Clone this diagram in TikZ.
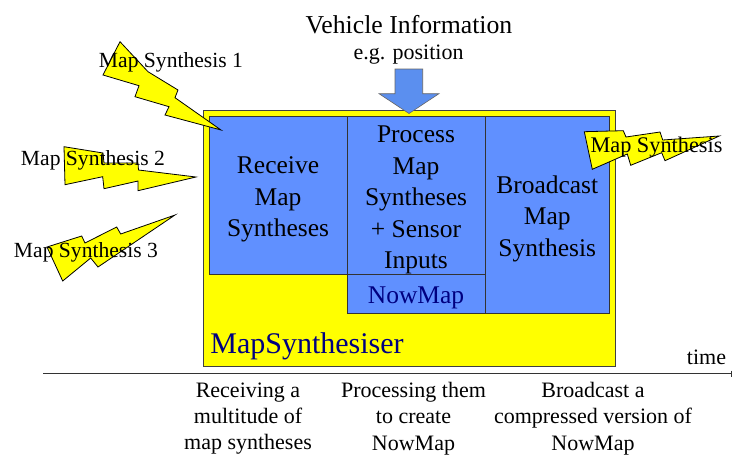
\documentclass[tikz,border=0pt]{standalone}
\usepackage{fontspec}
\setmainfont{Liberation Serif}
\usepackage{xcolor}
\definecolor{boxblue}{HTML}{6090FF}
\definecolor{arrowblue}{HTML}{5B8FEF}
\definecolor{navytext}{HTML}{000080}
\definecolor{boltyellow}{RGB}{255,255,0}
\tikzset{
    blockbox/.style={draw=black!80, fill=boxblue, line width=0.9pt, inner sep=0pt},
    blocktext/.style={align=center, inner sep=0pt, font=\fontsize{25.5}{31.5}\selectfont},
    boltshape/.style={draw=black, fill=boltyellow, line width=0.8pt, line join=miter},
    boltlabel/.style={font=\fontsize{21.6}{24}\selectfont, inner sep=0pt},
    notelabel/.style={font=\fontsize{22}{26.25}\selectfont, align=center, inner sep=0pt}
}
\begin{document}
\begin{tikzpicture}[x=1pt,y=-1pt]
    \useasboundingbox (0,0) rectangle (732,455);
    \draw[draw=black!75, fill=boltyellow, line width=0.8pt] (203,110) rectangle (615.5,366);
    \node[blockbox, minimum width=138pt, minimum height=158pt] (receive) at (278,195) {};
    \node[blockbox, minimum width=138pt, minimum height=158pt] (process) at (416,195) {};
    \node[blockbox, minimum width=138pt, minimum height=39pt] (nowmap) at (416,293.5) {};
    \node[blockbox, minimum width=124.5pt, minimum height=197pt] (broadcast) at (547.25,214.5) {};
    \node[blocktext] (receivetext) at ([yshift=-4.5pt]receive.center) {Receive\\Map\\Syntheses};
    \node[blocktext] (processtext) at ([yshift=-5pt]process.center) {Process\\Map\\Syntheses\\+ Sensor\\Inputs};
    \node[blocktext, text=navytext] (nowmaptext) at ([yshift=-4.5pt]nowmap.center) {NowMap};
    \node[blocktext] (broadcasttext) at ([yshift=-4pt]broadcast.center) {Broadcast\\Map\\Synthesis};
    \node[font=\fontsize{30}{36}\selectfont, text=navytext, inner sep=0pt] (synthesiser) at (307,346) {MapSynthesiser};
    \draw[draw=black!60, fill=arrowblue, line width=0.6pt] (395,69) -- (422.7,69) -- (422.7,93.7) -- (439,93.7) -- (409,113.5) -- (379,93.7) -- (395,93.7) -- cycle;
    \node[font=\fontsize{25.75}{30}\selectfont, inner sep=0pt] (vehicle) at (409,25) {Vehicle Information};
    \node[font=\fontsize{22}{26}\selectfont, inner sep=0pt] (position) at (408.5,55) {e.g. position};
    \draw[boltshape] (120,41.7) -- (148,71.7) -- (178,90) -- (175,97.7) -- (221,130) -- (165,115) -- (169,106.7) -- (135,96.7) -- (139,85.7) -- (103,75) -- cycle;
    \draw[boltshape] (64,146.7) -- (103,153) -- (104,163) -- (138,163) -- (138.5,170) -- (196,177) -- (138,190.7) -- (138,181) -- (104,188.7) -- (102.7,176.7) -- (65,184.7) -- cycle;
    \draw[boltshape] (175,215) -- (120.7,234) -- (116.7,227) -- (85,243) -- (81.7,236) -- (47,247) -- (62.7,281) -- (90.7,258) -- (98,267) -- cycle;
    \draw[boltshape] (584.3,131.7) -- (623.3,130.7) -- (626,137) -- (660,132) -- (662.7,140) -- (719.3,136) -- (665,160.7) -- (661.7,152.7) -- (630.7,165.3) -- (627.3,154) -- (592.3,169.3) -- cycle;
    \node[boltlabel] (synthesisone) at (171,62) {Map Synthesis 1};
    \node[boltlabel] (synthesistwo) at (93,160) {Map Synthesis 2};
    \node[boltlabel] (synthesisthree) at (86,252) {Map Synthesis 3};
    \node[font=\fontsize{22.3}{24}\selectfont, inner sep=0pt] (synthesisout) at (656.5,147.5) {Map Synthesis};
    \coordinate (axisstart) at (43,373.5);
    \coordinate (axisend) at (731.5,373.5);
    \draw[draw=black!80, line width=0.8pt] (axisstart) -- (axisend);
    \draw[draw=black!80, line width=0.8pt] ([yshift=3pt]axisend) -- ([yshift=-3pt]axisend);
    \node[font=\fontsize{22}{26}\selectfont, inner sep=0pt] (timelabel) at (706.5,357) {time};
    \node[notelabel] (receiving) at (248,418.5) {Receiving a\\multitude of\\map syntheses};
    \node[notelabel] (processing) at (413.5,418.5) {Processing them\\to create\\NowMap};
    \node[notelabel] (compressed) at (593,418.5) {Broadcast a\\compressed version of\\NowMap};
\end{tikzpicture}
\end{document}
